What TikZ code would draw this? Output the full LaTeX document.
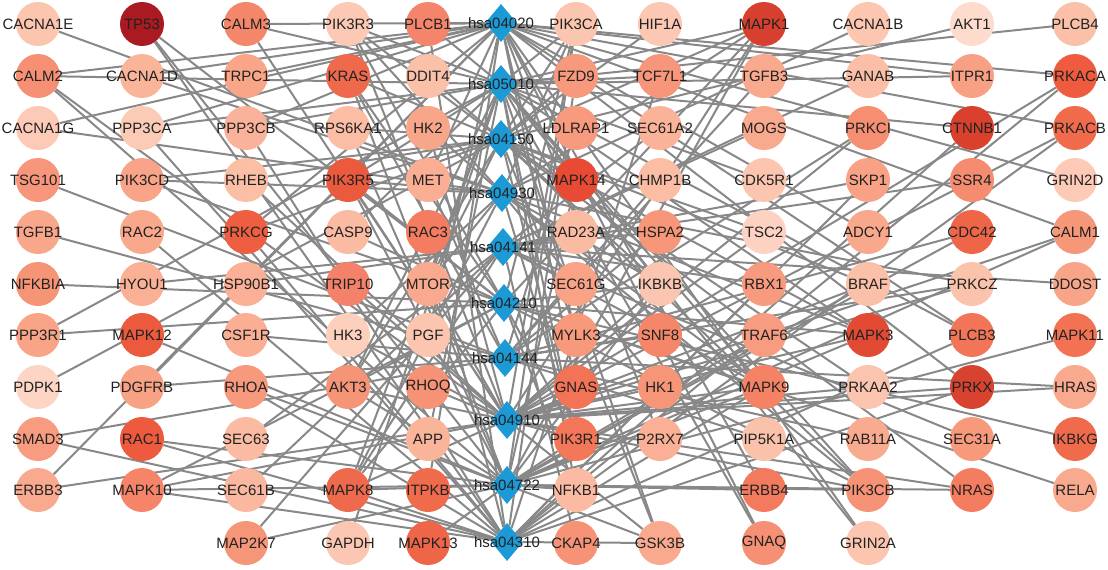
\documentclass[tikz,border=0pt]{standalone}
\usepackage{fontspec}
\setmainfont{Liberation Sans}
\usetikzlibrary{shapes.geometric,backgrounds}
\definecolor{edgec}{HTML}{888888}
\definecolor{diac}{HTML}{1B9AD6}
\definecolor{txtc}{HTML}{222222}
\tikzset{
  gene/.style={circle, draw=none, minimum size=44pt, inner sep=0pt},
  lab/.style={text=txtc, font=\fontsize{15}{17}\selectfont, inner sep=0pt},
  pathw/.style={diamond, draw=none, fill=diac, minimum width=32pt, minimum height=38pt, inner sep=0pt},
  edge/.style={draw=edgec, line width=2pt},
}
\newcommand\gnode[4]{\definecolor{c#1}{HTML}{#4}\node[gene,fill=c#1,label={[lab]center:#1}] (#1) at (#2,#3) {};}
\newcommand\pnode[4]{\node[pathw,alias=#4,label={[lab]center:#1}] (#1) at (#2,#3) {};}
\newcommand\gpe[2]{\foreach \p in {#2}{\draw[edge] (#1) -- (\p);}}
\begin{document}
\begin{tikzpicture}[x=1pt,y=-1pt]
\useasboundingbox (0,0) rectangle (1108,570);
% pathways
\pnode{hsa04020}{501}{23}{pA}
\pnode{hsa05010}{501}{84}{pB}
\pnode{hsa04150}{501}{139}{pC}
\pnode{hsa04930}{502}{193}{pD}
\pnode{hsa04141}{503}{247}{pE}
\pnode{hsa04210}{504}{303}{pF}
\pnode{hsa04144}{505}{358}{pG}
\pnode{hsa04910}{507}{420}{pH}
\pnode{hsa04722}{507}{485}{pI}
\pnode{hsa04310}{507}{542}{pJ}
% column 0
\gnode{CACNA1E}{38}{24}{FBC5AE}
\gnode{CALM2}{38}{76}{F69075}
\gnode{CACNA1G}{38}{128}{FCCAB6}
\gnode{TSG101}{38}{180}{F7967A}
\gnode{TGFB1}{38}{232}{F9A78A}
\gnode{NFKBIA}{38}{284}{F69476}
\gnode{PPP3R1}{38}{335}{F9A487}
\gnode{PDPK1}{38}{387}{FDD5C5}
\gnode{SMAD3}{38}{439}{F79C80}
\gnode{ERBB3}{38}{490}{F9A98D}
% column 1
\gnode{TP53}{142}{24}{A91A21}
\gnode{CACNA1D}{142}{76}{FAB49A}
\gnode{PPP3CA}{142}{128}{FCCBB6}
\gnode{PIK3CD}{142}{180}{F9A488}
\gnode{RAC2}{142}{232}{F9A88C}
\gnode{HYOU1}{142}{284}{FAB095}
\gnode{MAPK12}{142}{335}{EC5A3E}
\gnode{PDGFRB}{142}{387}{F8A285}
\gnode{RAC1}{142}{439}{EE5A3D}
\gnode{MAPK10}{142}{490}{F58468}
% column 2
\gnode{CALM3}{246}{24}{F4866A}
\gnode{TRPC1}{246}{76}{F9A688}
\gnode{PPP3CB}{246}{128}{FAB39A}
\gnode{RHEB}{246}{180}{FBBFA6}
\gnode{PRKCG}{246}{232}{EE5F42}
\gnode{HSP90B1}{246}{284}{FAB096}
\gnode{CSF1R}{246}{335}{FAAF94}
\gnode{RHOA}{246}{387}{F7997C}
\gnode{SEC63}{246}{439}{FBBBA2}
\gnode{SEC61B}{246}{490}{FAB8A0}
\gnode{MAP2K7}{246}{543}{F69679}
% column 3
\gnode{PIK3R3}{348}{24}{FCC9B4}
\gnode{KRAS}{348}{76}{EF6A4C}
\gnode{RPS6KA1}{348}{128}{FBBEA5}
\gnode{PIK3R5}{348}{180}{EC5A3E}
\gnode{CASP9}{348}{232}{FBBBA2}
\gnode{TRIP10}{348}{284}{F4826A}
\gnode{HK3}{348}{335}{FDD0BE}
\gnode{AKT3}{348}{387}{F69477}
\gnode{MAPK8}{348}{490}{EF6A4C}
\gnode{GAPDH}{348}{543}{FCC7B2}
% column 4
\gnode{PLCB1}{428}{24}{F4856A}
\gnode{DDIT4}{428}{76}{FBC0A8}
\gnode{HK2}{428}{128}{F8A68A}
\gnode{MET}{428}{180}{FAAE93}
\gnode{RAC3}{428}{232}{F47C60}
\gnode{MTOR}{428}{284}{F9AA8E}
\gnode{PGF}{428}{335}{FCC5AF}
\gnode{RHOQ}{428}{387}{F69275}
\gnode{APP}{428}{439}{FAB49A}
\gnode{ITPKB}{428}{490}{F06A4C}
\gnode{MAPK13}{428}{543}{EE6548}
% column 5
\gnode{PIK3CA}{576}{24}{FCC5B0}
\gnode{FZD9}{576}{76}{F7997D}
\gnode{LDLRAP1}{576}{128}{F79A7E}
\gnode{MAPK14}{576}{180}{E84A33}
\gnode{RAD23A}{576}{232}{FBBBA3}
\gnode{SEC61G}{576}{284}{F9A286}
\gnode{MYLK3}{576}{335}{F79A7C}
\gnode{GNAS}{576}{387}{F27355}
\gnode{PIK3R1}{576}{439}{F47759}
\gnode{NFKB1}{576}{490}{FBBBA3}
\gnode{CKAP4}{576}{543}{F69276}
% column 6
\gnode{HIF1A}{660}{24}{FCC8B4}
\gnode{TCF7L1}{660}{76}{F7967A}
\gnode{SEC61A2}{660}{128}{FAB298}
\gnode{CHMP1B}{660}{180}{FBBDA4}
\gnode{HSPA2}{660}{232}{F79679}
\gnode{IKBKB}{660}{284}{FBC6B1}
\gnode{SNF8}{660}{335}{F58669}
\gnode{HK1}{660}{387}{F79578}
\gnode{P2RX7}{660}{439}{FAB096}
\gnode{GSK3B}{660}{543}{F9A98D}
% column 7
\gnode{MAPK1}{764}{24}{D7402E}
\gnode{TGFB3}{764}{76}{F9A98D}
\gnode{MOGS}{764}{128}{F9A98D}
\gnode{CDK5R1}{764}{180}{FCC5B0}
\gnode{TSC2}{764}{232}{FDD2C2}
\gnode{RBX1}{764}{284}{F79A7D}
\gnode{TRAF6}{764}{335}{F79C80}
\gnode{MAPK9}{764}{387}{F58265}
\gnode{PIP5K1A}{764}{439}{FBC2AB}
\gnode{ERBB4}{764}{490}{F37A5C}
\gnode{GNAQ}{764}{543}{F69074}
% column 8
\gnode{CACNA1B}{868}{24}{FCC6B0}
\gnode{GANAB}{868}{76}{FBBEA6}
\gnode{PRKCI}{868}{128}{F68E71}
\gnode{SKP1}{868}{180}{F9A185}
\gnode{ADCY1}{868}{232}{F9A88C}
\gnode{BRAF}{868}{284}{FBC0A8}
\gnode{MAPK3}{868}{335}{E34A33}
\gnode{PRKAA2}{868}{387}{FBC4AE}
\gnode{RAB11A}{868}{439}{F9AB90}
\gnode{PIK3CB}{868}{490}{F69275}
\gnode{GRIN2A}{868}{543}{FCC5B0}
% column 9
\gnode{AKT1}{972}{24}{FDDCCD}
\gnode{ITPR1}{972}{76}{F8A083}
\gnode{CTNNB1}{972}{128}{D9412D}
\gnode{SSR4}{972}{180}{F58C70}
\gnode{CDC42}{972}{232}{EF6547}
\gnode{PRKCZ}{972}{284}{FBC3AC}
\gnode{PLCB3}{972}{335}{F37557}
\gnode{PRKX}{972}{387}{D8432F}
\gnode{SEC31A}{972}{439}{F79A7C}
\gnode{NRAS}{972}{490}{F47D5F}
% column 10
\gnode{PLCB4}{1075}{24}{FBC0A8}
\gnode{PRKACA}{1075}{76}{EE5B3E}
\gnode{PRKACB}{1075}{128}{F06B4C}
\gnode{GRIN2D}{1075}{180}{FCCAB6}
\gnode{CALM1}{1075}{232}{F7977A}
\gnode{DDOST}{1075}{284}{F8A488}
\gnode{MAPK11}{1075}{335}{F27253}
\gnode{HRAS}{1075}{387}{F9A98D}
\gnode{IKBKG}{1075}{439}{F06A4C}
\gnode{RELA}{1075}{490}{F9A98D}
% edges
\begin{scope}[on background layer]
\fill[white] (0,0) rectangle (1108,570);
\gpe{CACNA1E}{pD}
\gpe{CALM2}{pA,pB,pH,pI}
\gpe{CACNA1G}{pA,pD}
\gpe{TSG101}{pG}
\gpe{TGFB1}{pG}
\gpe{NFKBIA}{pF}
\gpe{PPP3R1}{pB,pF}
\gpe{PDPK1}{pC}
\gpe{SMAD3}{pG,pJ}
\gpe{ERBB3}{pA,pH}
\gpe{TP53}{pF,pI,pJ}
\gpe{CACNA1D}{pA,pD}
\gpe{PPP3CA}{pA,pB,pJ}
\gpe{PIK3CD}{pC,pD,pF}
\gpe{RAC2}{pJ}
\gpe{HYOU1}{pE}
\gpe{MAPK12}{pI}
\gpe{PDGFRB}{pA,pG}
\gpe{RAC1}{pI,pJ}
\gpe{MAPK10}{pF,pH,pI,pJ}
\gpe{CALM3}{pA,pB,pH}
\gpe{TRPC1}{pA}
\gpe{PPP3CB}{pA,pB,pJ}
\gpe{RHEB}{pC,pH}
\gpe{PRKCG}{pA,pC,pJ}
\gpe{HSP90B1}{pE}
\gpe{CSF1R}{pG}
\gpe{RHOA}{pI,pJ}
\gpe{SEC63}{pE}
\gpe{SEC61B}{pE}
\gpe{MAP2K7}{pE,pI}
\gpe{PIK3R3}{pB,pC,pD,pF,pH}
\gpe{KRAS}{pC,pF,pG,pI}
\gpe{RPS6KA1}{pC,pI}
\gpe{PIK3R5}{pB,pC,pD,pF,pH,pI}
\gpe{CASP9}{pB,pF}
\gpe{TRIP10}{pH}
\gpe{HK3}{pD,pH}
\gpe{AKT3}{pB,pC,pF,pH,pI}
\gpe{MAPK8}{pB,pD,pE,pF,pH,pI,pJ}
\gpe{GAPDH}{pB}
\gpe{PLCB1}{pA,pB,pJ}
\gpe{DDIT4}{pC}
\gpe{HK2}{pD,pH}
\gpe{MET}{pA,pG}
\gpe{RAC3}{pJ}
\gpe{MTOR}{pB,pC,pD,pH}
\gpe{PGF}{pA}
\gpe{RHOQ}{pH}
\gpe{APP}{pB}
\gpe{ITPKB}{pA}
\gpe{MAPK13}{pI}
\gpe{PIK3CA}{pB,pC,pD,pF,pH,pI}
\gpe{FZD9}{pB,pC,pJ}
\gpe{LDLRAP1}{pG}
\gpe{MAPK14}{pI}
\gpe{RAD23A}{pE}
\gpe{SEC61G}{pE}
\gpe{MYLK3}{pA}
\gpe{GNAS}{pA}
\gpe{PIK3R1}{pB,pC,pD,pF,pH,pI}
\gpe{NFKB1}{pB,pF,pI}
\gpe{CKAP4}{pE}
\gpe{HIF1A}{pC}
\gpe{TCF7L1}{pB,pJ}
\gpe{SEC61A2}{pE}
\gpe{CHMP1B}{pG}
\gpe{HSPA2}{pE,pG}
\gpe{IKBKB}{pB,pC,pD,pF,pH,pI}
\gpe{SNF8}{pG}
\gpe{HK1}{pD,pH}
\gpe{P2RX7}{pA}
\gpe{GSK3B}{pB,pC,pH,pI,pJ}
\gpe{MAPK1}{pB,pC,pD,pF,pH,pI}
\gpe{TGFB3}{pG}
\gpe{MOGS}{pE}
\gpe{CDK5R1}{pB}
\gpe{TSC2}{pC,pH}
\gpe{RBX1}{pE,pJ}
\gpe{TRAF6}{pI}
\gpe{MAPK9}{pB,pD,pE,pF,pH,pI,pJ}
\gpe{PIP5K1A}{pG}
\gpe{ERBB4}{pA,pI}
\gpe{GNAQ}{pA,pB}
\gpe{CACNA1B}{pD}
\gpe{GANAB}{pE}
\gpe{PRKCI}{pG,pH}
\gpe{SKP1}{pE,pJ}
\gpe{ADCY1}{pA}
\gpe{BRAF}{pC,pH,pI}
\gpe{MAPK3}{pB,pC,pD,pF,pH,pI}
\gpe{PRKAA2}{pC,pH}
\gpe{RAB11A}{pG}
\gpe{PIK3CB}{pB,pC,pD,pF,pH,pI}
\gpe{GRIN2A}{pA,pB}
\gpe{AKT1}{pC}
\gpe{ITPR1}{pA,pB}
\gpe{CTNNB1}{pB,pJ}
\gpe{SSR4}{pE}
\gpe{CDC42}{pG,pI}
\gpe{PRKCZ}{pD,pG,pH}
\gpe{PLCB3}{pA,pB,pJ}
\gpe{PRKX}{pA,pH,pJ}
\gpe{SEC31A}{pE}
\gpe{NRAS}{pC,pH,pI}
\gpe{PLCB4}{pB}
\gpe{PRKACA}{pA,pH,pJ}
\gpe{PRKACB}{pA,pH,pJ}
\gpe{GRIN2D}{pA}
\gpe{CALM1}{pA,pH,pI}
\gpe{DDOST}{pE}
\gpe{MAPK11}{pI}
\gpe{HRAS}{pG,pH}
\gpe{IKBKG}{pF}
\gpe{RELA}{pF}
\end{scope}
\end{tikzpicture}
\end{document}
